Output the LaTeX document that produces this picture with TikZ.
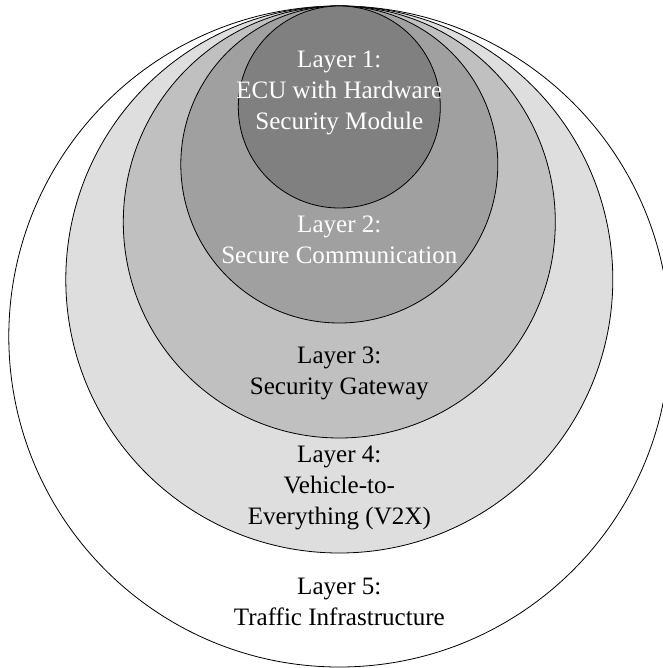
\documentclass[tikz,border=0pt]{standalone}
\usepackage{fontspec}
\setmainfont{Liberation Serif}
\definecolor{lay1}{HTML}{808080}
\definecolor{lay2}{HTML}{A0A0A0}
\definecolor{lay3}{HTML}{C0C0C0}
\definecolor{lay4}{HTML}{DEDEDE}
\definecolor{lay5}{HTML}{FFFFFF}
\begin{document}
\begin{tikzpicture}[x=0.75pt,y=-0.75pt,
  ring/.style={circle,draw=black,line width=0.6pt,inner sep=0pt,outer sep=0pt},
  lbl/.style={align=center,inner sep=0pt,anchor=base,font=\fontsize{18.8}{23.25}\selectfont}]
\useasboundingbox (0,0) rectangle (663,668);
\clip (0,0) rectangle (663,668);
\node[ring,fill=lay5,minimum size=661*0.75pt] (c5) at (339.3,336.5) {};
\node[ring,fill=lay4,minimum size=547*0.75pt] (c4) at (339.3,279.5) {};
\node[ring,fill=lay3,minimum size=432*0.75pt] (c3) at (339.3,222) {};
\node[ring,fill=lay2,minimum size=317*0.75pt] (c2) at (339.3,164.5) {};
\node[ring,fill=lay1,minimum size=202*0.75pt] (c1) at (339.3,107) {};
\node[lbl,text=white] (t1) at (339.3,129.3) {Layer 1:\\ECU with Hardware\\Security Module};
\node[lbl,text=white] (t2) at (339.3,263.3) {Layer 2:\\Secure Communication};
\node[lbl] (t3) at (339.3,394.3) {Layer 3:\\Security Gateway};
\node[lbl] (t4) at (339.3,524.3) {Layer 4:\\Vehicle-to-\\Everything (V2X)};
\node[lbl] (t5) at (339.3,625.7) {Layer 5:\\Traffic Infrastructure};
\end{tikzpicture}
\end{document}
